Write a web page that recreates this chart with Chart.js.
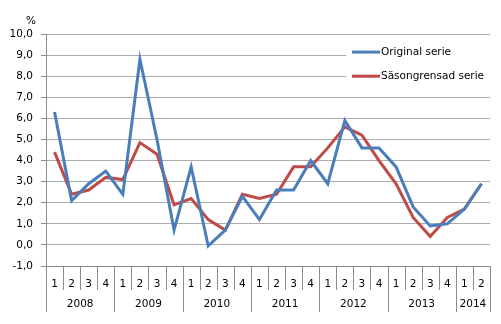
<!DOCTYPE html>
<html><head><meta charset="utf-8">
<script src="https://cdn.jsdelivr.net/npm/chart.js@4/dist/chart.umd.min.js"></script>
<style>html,body{margin:0;padding:0;background:#fff}#wrap{width:501px;height:324px;position:relative}</style>
</head><body><div id="wrap"><canvas id="c" width="501" height="324"></canvas></div>
<script>
const quarters = ["1","2","3","4","1","2","3","4","1","2","3","4","1","2","3","4","1","2","3","4","1","2","3","4","1","2"];
const years = ["2008","2009","2010","2011","2012","2013","2014"];
const quartersPerYear = [4,4,4,4,4,4,2];
const originalSerie = [6.3,2.1,2.9,3.5,2.4,8.8,5.0,0.7,3.7,-0.05,0.7,2.3,1.2,2.6,2.6,4.0,2.9,5.9,4.6,4.6,3.7,1.8,0.9,1.0,1.7,2.9];
const sasongrensadSerie = [4.4,2.4,2.6,3.2,3.1,4.85,4.3,1.9,2.2,1.2,0.7,2.4,2.2,2.4,3.7,3.7,4.6,5.6,5.2,4.0,2.9,1.3,0.4,1.3,1.7,2.9];
const seriesNames = ["Original serie","Säsongrensad serie"];
const FONT = "DejaVu Sans";
const AXIS = "#8c8c8c";

const extras = {
  id:'extras',
  beforeDatasetsDraw(chart){
    const x = chart.scales.x, ctx = chart.ctx, a = chart.chartArea;
    ctx.save();
    ctx.strokeStyle = AXIS; ctx.lineWidth = 1;
    const bottom = a.bottom;
    const qBottom = bottom + 24, yBottom = bottom + 46;
    let idx = 0; const yearBounds = [0];
    quartersPerYear.forEach(n => { idx += n; yearBounds.push(idx); });
    for (let i = 0; i <= quarters.length; i++) {
      let px;
      if (i === 0) px = a.left; else if (i === quarters.length) px = a.right;
      else px = (x.getPixelForValue(i-1) + x.getPixelForValue(i)) / 2;
      px = Math.round(px) + 0.5;
      const long = yearBounds.includes(i);
      ctx.beginPath(); ctx.moveTo(px, bottom); ctx.lineTo(px, long ? yBottom : qBottom); ctx.stroke();
    }
    ctx.fillStyle = "#000"; ctx.font = "10.5px '" + FONT + "'"; ctx.textAlign = "center"; ctx.textBaseline = "middle";
    for (let k = 0; k < years.length; k++) {
      const i0 = yearBounds[k], i1 = yearBounds[k+1];
      const l = i0 === 0 ? a.left : (x.getPixelForValue(i0-1) + x.getPixelForValue(i0)) / 2;
      const r = i1 === quarters.length ? a.right : (x.getPixelForValue(i1-1) + x.getPixelForValue(i1)) / 2;
      ctx.fillText(years[k], (l + r) / 2, bottom + 38);
    }
    ctx.fillText("%", 31, 21);
    ctx.restore();
  },
  afterDatasetsDraw(chart){
    const ctx = chart.ctx, a = chart.chartArea, y = chart.scales.y;
    ctx.save();
    ctx.fillStyle = "#fff";
    const y9 = y.getPixelForValue(9), y8 = y.getPixelForValue(8);
    ctx.fillRect(346, y9 - 12, a.right - 346, (y8 - y9) + 24);
    const cols = chart.data.datasets.map(d => d.borderColor);
    const rows = [y9 - 3, y8];
    ctx.font = "10.5px '" + FONT + "'"; ctx.textAlign = "left"; ctx.textBaseline = "middle";
    rows.forEach((ry, i) => {
      ctx.strokeStyle = cols[i]; ctx.lineWidth = 3;
      ctx.beginPath(); ctx.moveTo(352, ry); ctx.lineTo(380, ry); ctx.stroke();
      ctx.fillStyle = "#000"; ctx.fillText(seriesNames[i], 381, ry);
    });
    ctx.restore();
  }
};

new Chart(document.getElementById('c'), {
  type: 'line',
  data: {
    labels: quarters,
    datasets: [
      { label: seriesNames[0], data: originalSerie, borderColor: '#4A7EBB', borderWidth: 3, pointRadius: 0, tension: 0, fill: false },
      { label: seriesNames[1], data: sasongrensadSerie, borderColor: '#BE4B48', borderWidth: 3, pointRadius: 0, tension: 0, fill: false }
    ]
  },
  options: {
    responsive: false, animation: false, devicePixelRatio: 1,
    layout: { padding: { top: 34, right: 11, bottom: 0, left: 0 } },
    plugins: { legend: { display: false }, tooltip: { enabled: false } },
    scales: {
      x: {
        offset: true,
        grid: { display: false },
        border: { display: true, color: AXIS },
        ticks: { color: '#000', font: { family: FONT, size: 10.5 }, padding: 4, maxRotation: 0, autoSkip: false },
        afterFit(s){ s.height = 58; }
      },
      y: {
        min: -1, max: 10,
        grid: { color: '#adadad', tickLength: 5, tickColor: AXIS },
        border: { display: true, color: AXIS },
        ticks: { stepSize: 1, color: '#000', font: { family: FONT, size: 10.5 }, padding: 8,
          callback: v => v.toFixed(1).replace('.', ',') },
        afterFit(s){ s.width = 46; }
      }
    }
  },
  plugins: [extras]
});
</script></body></html>
